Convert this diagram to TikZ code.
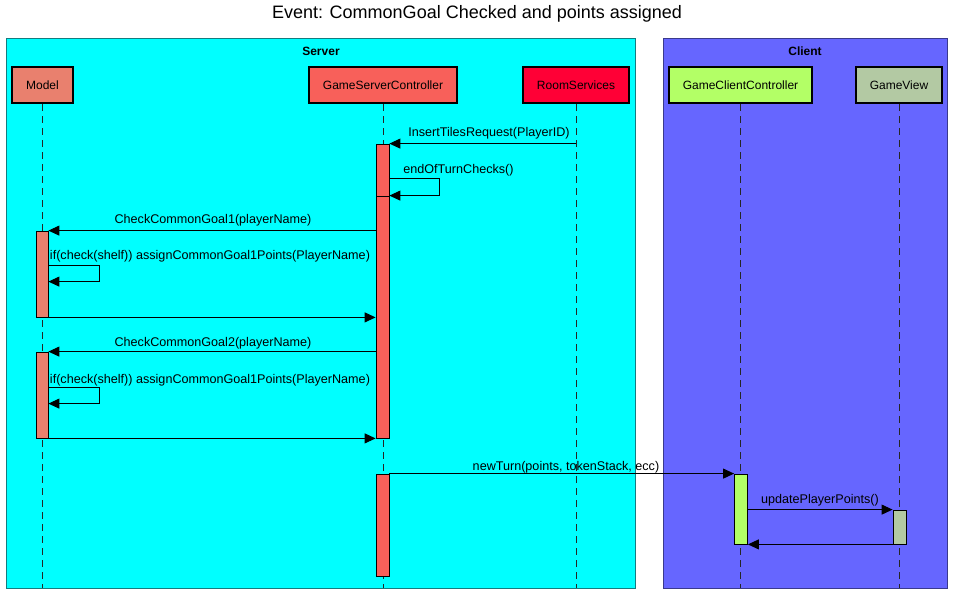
\documentclass[tikz,border=0pt]{standalone}
\usepackage{fontspec}
\setmainfont{Liberation Sans}
\usetikzlibrary{arrows.meta}
\definecolor{srvbg}{HTML}{00FFFF}
\definecolor{srvbd}{HTML}{147C80}
\definecolor{clibg}{HTML}{6666FF}
\definecolor{clibd}{HTML}{3A3A8C}
\definecolor{modelc}{HTML}{E9806E}
\definecolor{gscc}{HTML}{F8605A}
\definecolor{rsc}{HTML}{FF0036}
\definecolor{gccc}{HTML}{B3FF66}
\definecolor{gvc}{HTML}{B3C9A3}
\tikzset{
  frame/.style={draw, line width=1pt},
  part/.style={draw=black, line width=2pt, rectangle, inner sep=0pt, minimum height=36pt, font=\fontsize{12pt}{14pt}\selectfont},
  act/.style={draw=black, line width=0.8pt, rectangle, inner sep=0pt, minimum width=13pt},
  life/.style={draw=black!85, line width=1pt, dash pattern=on 7pt off 5pt},
  msg/.style={draw=black, line width=1pt, -{Triangle[length=11pt,width=10pt]}},
  lbl/.style={inner sep=0pt, font=\fontsize{12.6pt}{14pt}\selectfont},
}
\begin{document}
\begin{tikzpicture}[x=1pt,y=-1pt]
\useasboundingbox[fill=white] (0,0) rectangle (954,595);
\node[font=\fontsize{18pt}{21pt}\selectfont, inner sep=0pt] (title) at (477,14) {Event: CommonGoal Checked and points assigned};
% frames
\draw[frame, draw=srvbd, fill=srvbg] (6,38) rectangle (635,588);
\draw[frame, draw=clibd, fill=clibg] (663,38) rectangle (947,588);
\node[lbl, font=\fontsize{12pt}{14pt}\bfseries] (server) at (321,51) {Server};
\node[lbl, font=\fontsize{12pt}{14pt}\bfseries] (client) at (805,51) {Client};
% participants
\node[part, fill=modelc, minimum width=61pt] (model) at (42.5,85) {Model};
\node[part, fill=gscc, minimum width=148pt] (gsc) at (383,85) {GameServerController};
\node[part, fill=rsc, minimum width=106pt] (rs) at (576,85) {RoomServices};
\node[part, fill=gccc, minimum width=143pt] (gcc) at (740.5,85) {GameClientController};
\node[part, fill=gvc, minimum width=86pt] (gv) at (899,85) {GameView};
% lifeline ends
\coordinate (modelEnd) at (42.5,588);
\coordinate (gscEnd) at (383,588);
\coordinate (rsEnd) at (576,588);
\coordinate (gccEnd) at (740.5,588);
\coordinate (gvEnd) at (899,588);
\draw[life] (model.south) -- (modelEnd);
\draw[life] (gsc.south) -- (gscEnd);
\draw[life] (rs.south) -- (rsEnd);
\draw[life] (gcc.south) -- (gccEnd);
\draw[life] (gv.south) -- (gvEnd);
% activations
\node[act, fill=gscc, minimum height=52pt] (gscA) at (382.5,170) {};
\node[act, fill=gscc, minimum height=242pt] (gscB) at (382.5,317) {};
\node[act, fill=gscc, minimum height=102pt] (gscC) at (382.5,525) {};
\node[act, fill=modelc, minimum width=12pt, minimum height=86pt] (mA) at (42,274) {};
\node[act, fill=modelc, minimum width=12pt, minimum height=86pt] (mB) at (42,395) {};
\node[act, fill=gccc, minimum height=70pt] (gccA) at (741,509) {};
\node[act, fill=gvc, minimum height=34pt] (gvA) at (899.5,527) {};
% messages
\draw[msg] (gscA.north east -| rs.south) -- (gscA.north east);
\node[lbl] (l1) at (489,133) {InsertTilesRequest(PlayerID)};
\draw[msg] ([yshift=-35pt]gscA.north east) -- ++(50,0) -- ++(0,17) -- (gscB.north east);
\node[lbl] (l2) at (458.5,170) {endOfTurnChecks()};
\draw[msg] (mA.north east -| gscB.west) -- (mA.north east);
\node[lbl] (l3) at (213,220) {CheckCommonGoal1(playerName)};
\draw[msg] ([yshift=-35pt]mA.north east) -- ++(51,0) -- ++(0,16) -- ++(-51,0);
\node[lbl] (l4) at (210,256) {if(check(shelf)) assignCommonGoal1Points(PlayerName)};
\draw[msg] (mA.south east) -- (mA.south east -| gscB.west);
\draw[msg] (mB.north east -| gscB.west) -- (mB.north east);
\node[lbl] (l5) at (213,343) {CheckCommonGoal2(playerName)};
\draw[msg] ([yshift=-36pt]mB.north east) -- ++(51,0) -- ++(0,16) -- ++(-51,0);
\node[lbl] (l6) at (210,380) {if(check(shelf)) assignCommonGoal1Points(PlayerName)};
\draw[msg] (mB.south east) -- (mB.south east -| gscB.west);
\draw[msg] (gscC.north east) -- (gccA.north west);
\node[lbl] (l7) at (566,467) {newTurn(points, tokenStack, ecc)};
\draw[msg] (gvA.north west -| gccA.east) -- (gvA.north west);
\node[lbl] (l8) at (820,500) {updatePlayerPoints()};
\draw[msg] (gvA.south west) -- (gvA.south west -| gccA.east);
\end{tikzpicture}
\end{document}
